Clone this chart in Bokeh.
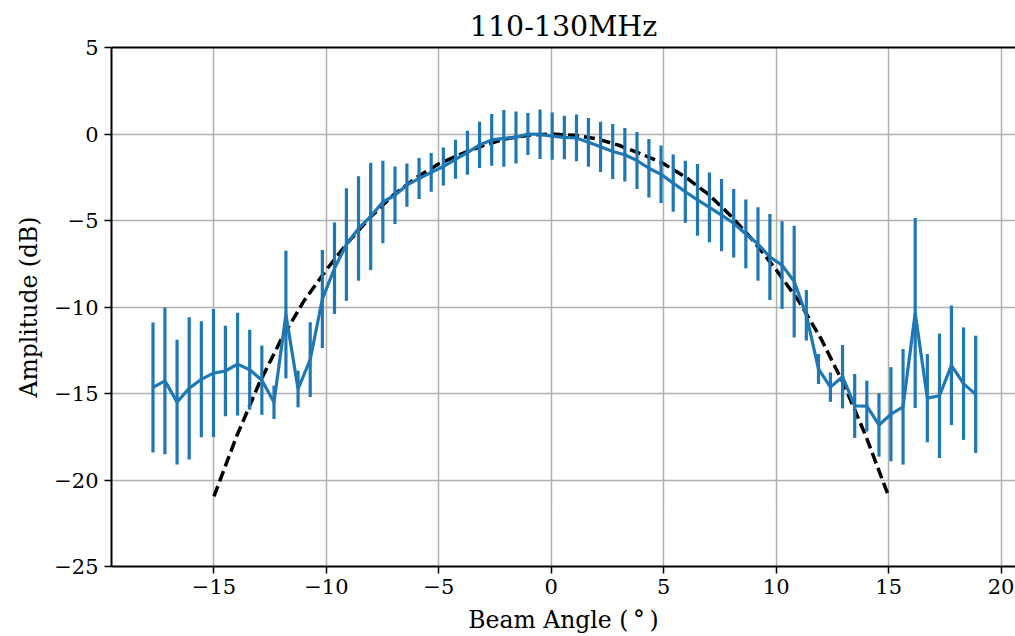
from bokeh.plotting import figure
from bokeh.models import LinearAxis, FixedTicker, CustomJSTickFormatter, Range1d
from bokeh.embed import file_html
from bokeh.resources import INLINE

# Beam angles (deg) of the measured points
angle = [-17.71, -17.18, -16.64, -16.10, -15.56, -15.02, -14.49, -13.95, -13.41, -12.87,
         -12.33, -11.80, -11.26, -10.72, -10.18, -9.64, -9.11, -8.57, -8.03, -7.49,
         -6.95, -6.42, -5.88, -5.34, -4.80, -4.26, -3.73, -3.19, -2.65, -2.11,
         -1.57, -1.04, -0.50, 0.04, 0.58, 1.12, 1.65, 2.19, 2.73, 3.27,
         3.81, 4.34, 4.88, 5.42, 5.96, 6.50, 7.03, 7.57, 8.11, 8.65,
         9.19, 9.72, 10.26, 10.80, 11.34, 11.88, 12.41, 12.95, 13.49, 14.03,
         14.57, 15.10, 15.64, 16.18, 16.72, 17.26, 17.79, 18.33, 18.87]

# Measured amplitude (dB)
amp = [-14.65, -14.27, -15.50, -14.70, -14.18, -13.82, -13.70, -13.30, -13.63, -14.23,
       -15.51, -10.44, -14.74, -13.04, -9.54, -7.76, -6.39, -5.46, -4.76, -3.93,
       -3.54, -2.95, -2.57, -2.22, -1.88, -1.46, -1.08, -0.63, -0.34, -0.25,
       -0.20, 0.00, -0.02, -0.12, -0.20, -0.23, -0.48, -0.74, -1.01, -1.20,
       -1.53, -1.98, -2.33, -2.84, -3.34, -3.81, -4.24, -4.69, -5.16, -5.78,
       -6.36, -7.11, -7.58, -8.53, -10.48, -13.58, -14.63, -14.03, -15.72, -15.73,
       -16.82, -16.20, -15.77, -10.35, -15.27, -15.13, -13.37, -14.43, -15.05]

# Error (dB, half length of bar)
err = [3.76, 4.24, 3.61, 4.11, 3.35, 3.70, 2.62, 2.97, 2.31, 2.00,
       0.96, 3.69, 1.06, 2.16, 2.83, 2.65, 3.25, 3.02, 3.10, 2.39,
       1.66, 1.25, 1.18, 1.12, 1.10, 1.13, 1.27, 1.34, 1.49, 1.64,
       1.50, 1.21, 1.43, 1.37, 1.26, 1.35, 1.41, 1.45, 1.59, 1.54,
       1.65, 1.69, 1.66, 1.65, 1.79, 2.07, 2.02, 2.09, 1.98, 1.99,
       2.12, 2.49, 2.53, 3.23, 1.46, 0.87, 0.85, 1.83, 1.85, 1.47,
       1.83, 2.72, 3.34, 5.49, 2.55, 3.60, 3.45, 3.25, 3.39]

# Model beam (dashed)
model_angle = [-15, -14, -13, -12, -11, -10, -9, -8, -7, -6, -5, -4, -3, -2, -1, 0,
               1, 2, 3, 4, 5, 6, 7, 8, 9, 10, 11, 12, 13, 14, 15]
model_amp = [-20.95, -17.5, -14.45, -11.85, -9.65, -7.85, -6.2, -4.75, -3.5, -2.52, -1.72,
             -1.15, -0.65, -0.27, -0.07, 0.0, -0.07, -0.27, -0.65, -1.15, -1.72, -2.52,
             -3.5, -4.75, -6.2, -7.85, -9.65, -11.85, -14.45, -17.5, -20.95]

x_ticks = [-20, -15, -10, -5, 0, 5, 10, 15, 20]
y_ticks = [-25, -20, -15, -10, -5, 0, 5]

FONT = "DejaVu Serif"
BLUE = "#1f77b4"

p = figure(width=1015, height=636, output_backend="svg", toolbar_location=None,
           x_range=Range1d(-19.555, 20.64), y_range=Range1d(-25, 5),
           min_border_left=111, min_border_right=0, min_border_top=47, min_border_bottom=70,
           title="110-130MHz")

p.title.text_font = FONT
p.title.text_font_size = "28.5px"
p.title.text_font_style = "normal"
p.title.align = "center"
p.title.text_color = "black"

p.outline_line_color = None
p.background_fill_color = "white"
p.border_fill_color = "white"

fmt = CustomJSTickFormatter(code="""
    return tick < 0 ? '\u2212' + (-tick).toString() : tick.toString();
""")

for ax, ticks in ((p.xaxis[0], x_ticks), (p.yaxis[0], y_ticks)):
    ax.ticker = FixedTicker(ticks=ticks)
    ax.formatter = fmt
    ax.axis_line_color = "black"
    ax.axis_line_width = 2
    ax.major_tick_line_color = "black"
    ax.major_tick_line_width = 1.5
    ax.major_tick_out = 7
    ax.major_tick_in = 0
    ax.minor_tick_out = 0
    ax.minor_tick_in = 0
    ax.major_label_text_font = FONT
    ax.major_label_text_font_size = "21px"
    ax.major_label_text_color = "black"
    ax.axis_label_text_font = FONT
    ax.axis_label_text_font_size = "23.5px"
    ax.axis_label_text_font_style = "normal"
    ax.axis_label_text_color = "black"

p.xaxis.axis_label = "Beam Angle (\u2009\u00b0\u2009)"
p.yaxis.axis_label = "Amplitude (dB)"
p.xaxis.major_label_standoff = 5
p.yaxis.major_label_standoff = 6
p.xaxis.axis_label_standoff = 9
p.yaxis.axis_label_standoff = 8

top = LinearAxis(ticker=FixedTicker(ticks=[]), axis_line_color="black", axis_line_width=2,
                 major_tick_out=0, minor_tick_out=0, major_label_text_font_size="0px")
p.add_layout(top, "above")

p.xgrid.ticker = FixedTicker(ticks=x_ticks)
p.ygrid.ticker = FixedTicker(ticks=y_ticks)
for g in (p.xgrid[0], p.ygrid[0]):
    g.grid_line_color = "#b0b0b0"
    g.grid_line_width = 1.5

p.line(model_angle, model_amp, line_color="black", line_width=3.5, line_dash="11 5")

lower = [a - e for a, e in zip(amp, err)]
upper = [a + e for a, e in zip(amp, err)]
p.segment(x0=angle, y0=lower, x1=angle, y1=upper, line_color=BLUE, line_width=3.2)
p.line(angle, amp, line_color=BLUE, line_width=3.2)

open("out.html", "w").write(file_html(p, INLINE))
